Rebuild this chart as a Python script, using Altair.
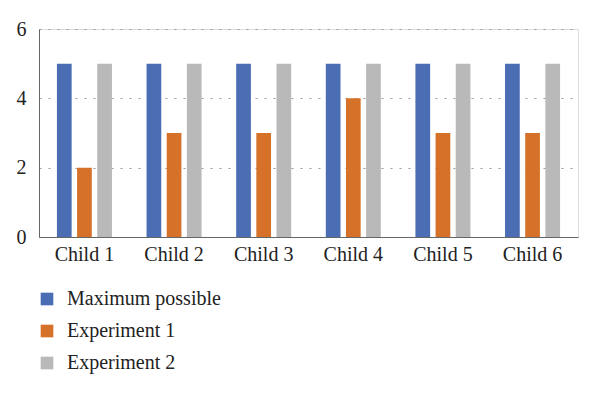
import altair as alt
import pandas as pd

categories = ["Child 1", "Child 2", "Child 3", "Child 4", "Child 5", "Child 6"]
series = ["Maximum possible", "Experiment 1", "Experiment 2"]
max_possible = [5, 5, 5, 5, 5, 5]
experiment1 = [2, 3, 3, 4, 3, 3]
experiment2 = [5, 5, 5, 5, 5, 5]
colors = ["#4a6db3", "#d57128", "#b9b9b9"]

rows = []
for name, vals in zip(series, [max_possible, experiment1, experiment2]):
    for c, v in zip(categories, vals):
        rows.append({"child": c, "series": name, "value": v})
df = pd.DataFrame(rows)

font = "Liberation Serif"

chart = alt.Chart(df).mark_bar().encode(
    x=alt.X("child:N", sort=categories, title=None,
            scale=alt.Scale(paddingInner=0.386, paddingOuter=0.2),
            axis=alt.Axis(labelAngle=0, ticks=False, grid=False, domainColor="#666666",
                          labelFontSize=20, labelPadding=7, labelColor="#222222",
                          labelFont=font)),
    xOffset=alt.XOffset("series:N", sort=series,
                        scale=alt.Scale(paddingInner=0.27, paddingOuter=0)),
    y=alt.Y("value:Q", title=None,
            scale=alt.Scale(domain=[0, 6]),
            axis=alt.Axis(values=[0, 2, 4, 6], ticks=False, domainColor="#666666",
                          gridColor="#999999", gridDash=[2, 7], gridWidth=1,
                          labelFontSize=20, labelPadding=13, labelColor="#222222",
                          labelFont=font)),
    color=alt.Color("series:N", sort=series,
                    scale=alt.Scale(domain=series, range=colors),
                    legend=alt.Legend(title=None, orient="none", legendX=-2, legendY=260,
                                      direction="vertical", symbolType="square",
                                      symbolSize=160, symbolStrokeWidth=0,
                                      labelFontSize=20, labelFont=font,
                                      labelColor="#222222", labelOffset=10,
                                      rowPadding=12)),
).properties(
    width=539, height=208,
    autosize=alt.AutoSizeParams(type="none"),
    padding={"left": 31, "top": 21, "right": 14, "bottom": 150},
).configure_view(stroke=None, strokeWidth=0).configure(font=font)

chart.save("out.html", embed_options={"renderer": "svg", "actions": False})
